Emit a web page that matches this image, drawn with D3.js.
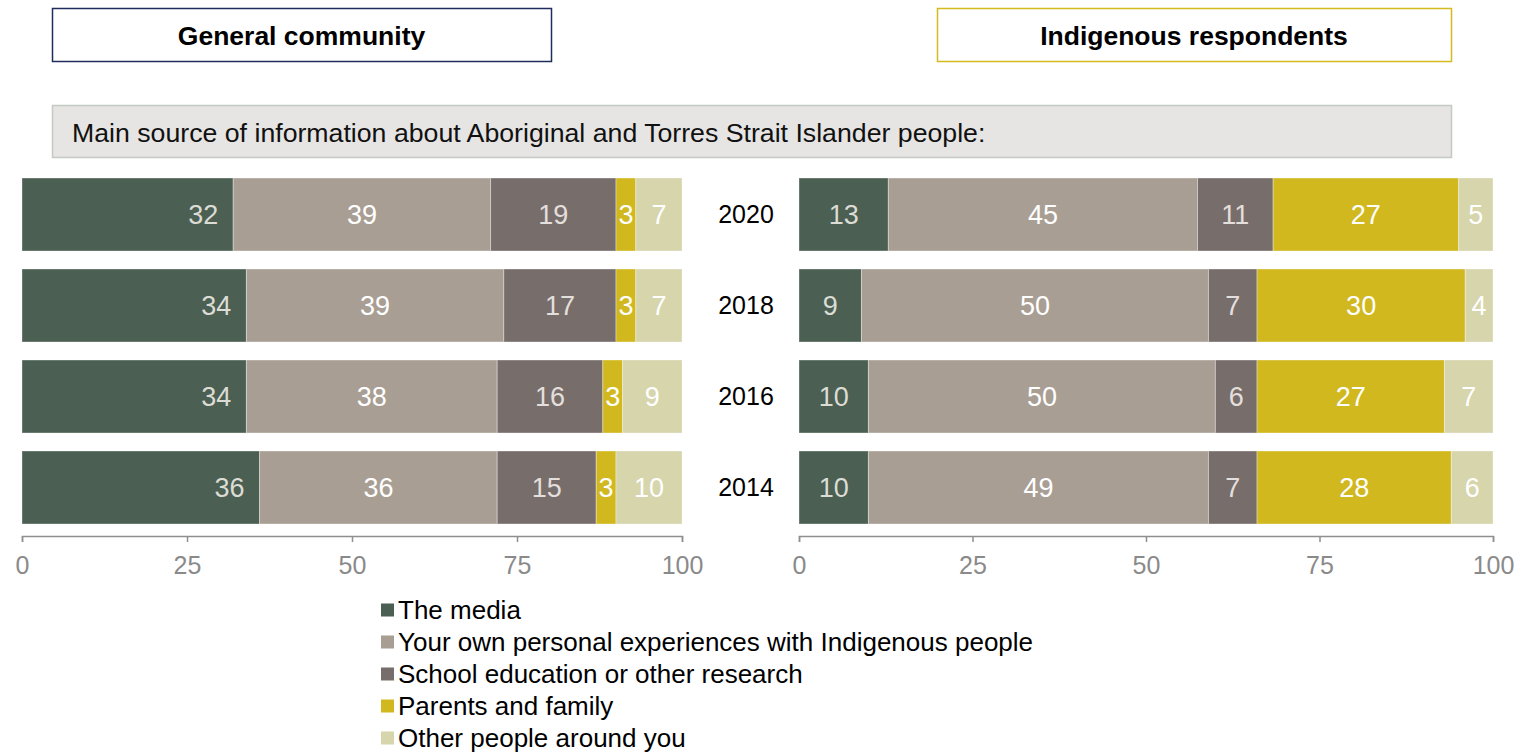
<!DOCTYPE html>
<html>
<head>
<meta charset="utf-8">
<script src="https://cdn.jsdelivr.net/npm/d3@7"></script>
<style>
  html, body { margin: 0; padding: 0; background: #fff; }
  svg { display: block; font-family: "Liberation Sans", Arial, sans-serif; }
</style>
</head>
<body>
<svg id="chart" width="1526" height="755"></svg>
<script>
// ---- Data ----
const years = ["2020", "2018", "2016", "2014"];
const seriesNames = [
  "The media",
  "Your own personal experiences with Indigenous people",
  "School education or other research",
  "Parents and family",
  "Other people around you"
];
const seriesColors = ["#4b5f52", "#a99e94", "#776e6b", "#d1b81f", "#d6d5ac"];
const labelColors = ["#dcdcd4", "#ffffff", "#e4dfdc", "#ffffff", "#ffffff"];

// General community (per year, per series)
const generalMedia    = [32, 34, 34, 36];
const generalPersonal = [39, 39, 38, 36];
const generalSchool   = [19, 17, 16, 15];
const generalParents  = [3, 3, 3, 3];
const generalOther    = [7, 7, 9, 10];

// Indigenous respondents
const indigMedia    = [13, 9, 10, 10];
const indigPersonal = [45, 50, 50, 49];
const indigSchool   = [11, 7, 6, 7];
const indigParents  = [27, 30, 27, 28];
const indigOther    = [5, 4, 7, 6];

const axisTicks = [0, 25, 50, 75, 100];
const panelTitles = ["General community", "Indigenous respondents"];
const subtitle = "Main source of information about Aboriginal and Torres Strait Islander people:";

// ---- Build tables ----
const keys = ["media", "personal", "school", "parents", "other"];
function makeRows(m, p, s, pa, o) {
  return years.map((y, i) => ({ year: y, media: m[i], personal: p[i], school: s[i], parents: pa[i], other: o[i] }));
}
const generalRows = makeRows(generalMedia, generalPersonal, generalSchool, generalParents, generalOther);
const indigRows = makeRows(indigMedia, indigPersonal, indigSchool, indigParents, indigOther);

const svg = d3.select("#chart");

// ---- Header boxes ----
const headers = [
  { x: 52, y: 8, w: 499, h: 53, stroke: "#1f2c5c", text: panelTitles[0] },
  { x: 937, y: 8, w: 514, h: 53, stroke: "#d4ba1f", text: panelTitles[1] }
];
headers.forEach(h => {
  svg.append("rect").attr("x", h.x + 0.5).attr("y", h.y + 0.5).attr("width", h.w).attr("height", h.h)
    .attr("fill", "#fff").attr("stroke", h.stroke).attr("stroke-width", 1.5);
  svg.append("text").attr("x", h.x + h.w / 2).attr("y", h.y + h.h / 2 + 1).attr("dy", "0.35em")
    .attr("text-anchor", "middle").attr("font-weight", "bold").attr("font-size", 26.5).attr("fill", "#000")
    .text(h.text);
});

// ---- Subtitle box ----
svg.append("rect").attr("x", 52.5).attr("y", 105.5).attr("width", 1399).attr("height", 52)
  .attr("fill", "#e6e5e3").attr("stroke", "#c3cac2").attr("stroke-width", 1.5);
svg.append("text").attr("x", 72).attr("y", 133).attr("dy", "0.35em")
  .attr("font-size", 26.7).attr("fill", "#111").text(subtitle);

// ---- Scales ----
const y = d3.scaleBand().domain(years).range([169, 533]).paddingInner(0.198).paddingOuter(0.099);
const stack = d3.stack().keys(keys).offset(d3.stackOffsetExpand);

function drawPanel(rows, x0, x1, mediaInsideEnd) {
  const x = d3.scaleLinear().domain([0, 100]).range([x0, x1]);
  const stacked = stack(rows);
  const g = svg.append("g");
  stacked.forEach((layer, si) => {
    const lg = g.append("g");
    lg.selectAll("rect").data(layer).join("rect")
      .attr("x", d => x(d[0] * 100))
      .attr("y", d => y(d.data.year))
      .attr("width", d => x(d[1] * 100) - x(d[0] * 100))
      .attr("height", y.bandwidth())
      .attr("fill", seriesColors[si])
      .attr("stroke", "rgba(255,255,255,0.35)")
      .attr("stroke-width", 1);
    lg.selectAll("text").data(layer).join("text")
      .attr("x", d => (si === 0 && mediaInsideEnd) ? x(d[1] * 100) - 15 : (x(d[0] * 100) + x(d[1] * 100)) / 2)
      .attr("y", d => y(d.data.year) + y.bandwidth() / 2)
      .attr("dy", "0.35em")
      .attr("text-anchor", (si === 0 && mediaInsideEnd) ? "end" : "middle")
      .attr("font-size", 27)
      .attr("fill", labelColors[si])
      .text(d => d.data[keys[si]]);
  });
  const axis = d3.axisBottom(x).tickValues(axisTicks).tickSize(6).tickSizeOuter(6).tickPadding(14);
  const ag = svg.append("g").attr("transform", "translate(0,536)").call(axis);
  ag.select(".domain").attr("stroke", "#8f8f8f").attr("stroke-width", 1.5);
  ag.selectAll(".tick line").attr("stroke", "#8f8f8f").attr("stroke-width", 1.5);
  ag.selectAll(".tick text").attr("fill", "#8a8a8a").attr("font-size", 25)
    .attr("font-family", "'Liberation Sans', Arial, sans-serif");
  return x;
}

drawPanel(generalRows, 22, 682, true);
drawPanel(indigRows, 799, 1493, false);

// ---- Year labels ----
svg.append("g").selectAll("text").data(years).join("text")
  .attr("x", 746).attr("y", d => y(d) + y.bandwidth() / 2).attr("dy", "0.35em")
  .attr("text-anchor", "middle").attr("font-size", 25).attr("fill", "#000")
  .text(d => d);

// ---- Legend ----
const legend = svg.append("g");
seriesNames.forEach((name, i) => {
  const cy = 610 + i * 32;
  legend.append("rect").attr("x", 381).attr("y", cy - 6.5).attr("width", 13).attr("height", 13)
    .attr("fill", seriesColors[i]);
  legend.append("text").attr("x", 398).attr("y", cy).attr("dy", "0.35em")
    .attr("font-size", 26).attr("fill", "#000").text(name);
});
</script>
</body>
</html>
